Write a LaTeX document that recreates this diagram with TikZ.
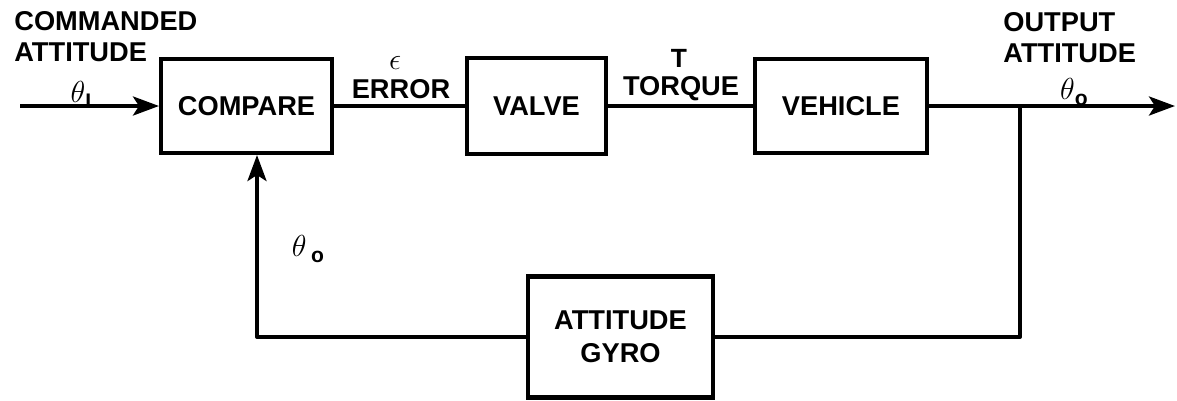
\documentclass[tikz,border=0pt]{standalone}
\usepackage{fontspec}
\setmainfont{Liberation Sans}
\usetikzlibrary{arrows.meta}
\newcommand{\subfnt}{\fontsize{12}{12}\selectfont\bfseries}
\tikzset{
  blk/.style={draw, line width=2.3pt, inner sep=0pt, font=\fontsize{15.5}{18.5}\selectfont\bfseries, align=center},
  wire/.style={line width=2.2pt},
  arr/.style={wire, -{Stealth[length=0.52cm,width=0.38cm,inset=0.12cm]}},
  lbl/.style={inner sep=0pt, font=\fontsize{15.5}{17.6}\selectfont\bfseries, align=left},
  sym/.style={inner sep=0pt, font=\fontsize{16}{18}\selectfont}
}
\begin{document}
\begin{tikzpicture}[x=0.02cm, y=-0.02cm]
\useasboundingbox (0,0) rectangle (1177,400);
% blocks
\node[blk, minimum width=3.42cm, minimum height=1.88cm] (compare) at (246.5,106) {COMPARE};
\node[blk, minimum width=2.78cm, minimum height=1.92cm] (valve) at (536.5,106) {VALVE};
\node[blk, minimum width=3.44cm, minimum height=1.88cm] (vehicle) at (841,106) {VEHICLE};
\node[blk, minimum width=3.70cm, minimum height=2.42cm] (gyro) at (620.5,337) {ATTITUDE\\GYRO};
% coordinates
\coordinate (in) at (20,106);
\coordinate (junc) at (1020,106);
\coordinate (out) at (1175,106);
\coordinate (fbl) at (257,337);
% connectors
\draw[arr] (in) -- (compare);
\draw[wire] (compare) -- (valve);
\draw[wire] (valve) -- (vehicle);
\draw[arr] (vehicle) -- (out);
\draw[wire, line join=round] (junc) |- (gyro.east);
\draw[arr, line join=round] (gyro.west) -- (fbl) -- (fbl |- compare.south);
% labels
\node[lbl, anchor=north west] (cmd) at (14,11) {COMMANDED\\ATTITUDE};
\node[lbl, anchor=north west] (outl) at (1003,12) {OUTPUT\\ATTITUDE};
\node[lbl] (err) at (401,89) {ERROR};
\node[lbl] (tq) at (681,89) {TORQUE};
\node[sym] (eps) at (395,63) {$\epsilon$};
\node[lbl, font=\fontsize{15}{16}\selectfont\bfseries] (tsym) at (679,58) {T};
\node[sym] (thi) at (81,95) {$\theta$\raisebox{-0.45ex}{\subfnt I}};
\node[sym] (thor) at (1074,92) {$\theta$\raisebox{-0.4ex}{\subfnt o}};
\node[sym] (thol) at (308,249) {$\theta$\,\raisebox{-0.45ex}{\subfnt o}};
\end{tikzpicture}
\end{document}
